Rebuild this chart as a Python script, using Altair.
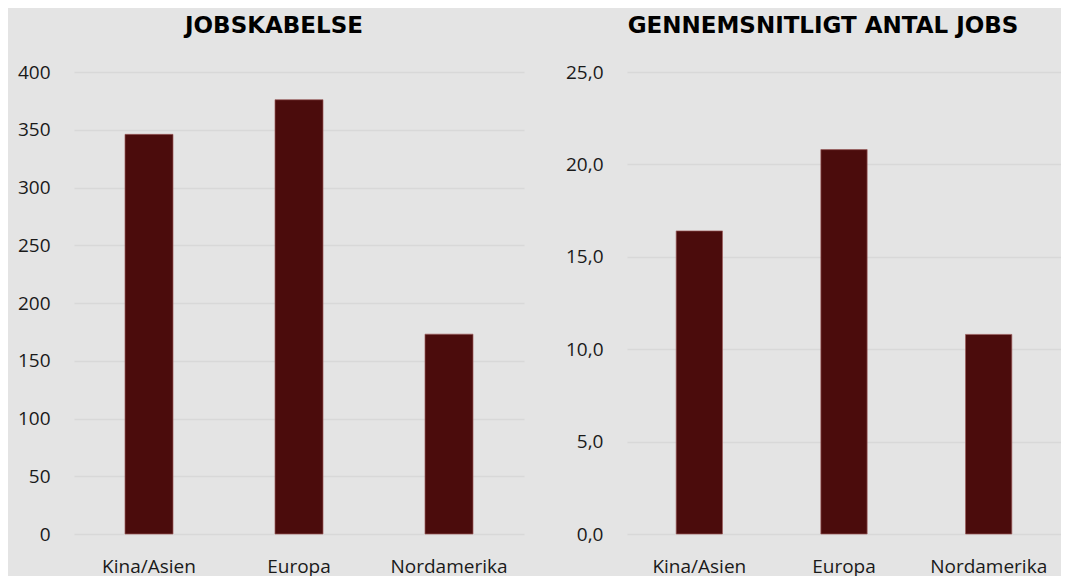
import altair as alt
import pandas as pd

regions = ["Kina/Asien", "Europa", "Nordamerika"]
jobskabelse = [346, 376, 173]
gennemsnit_jobs = [16.4, 20.8, 10.8]
left_ticks = [0, 50, 100, 150, 200, 250, 300, 350, 400]
right_ticks = [0, 5, 10, 15, 20, 25]
titles = ["JOBSKABELSE", "GENNEMSNITLIGT ANTAL JOBS"]

BG = "#e4e4e4"
BAR = "#4b0c0c"
GRID = "#d8d8d8"
TXT = "#1a1a1a"


def panel(values, title, ticks, ymax, width, label_expr, extent, dx):
    df = pd.DataFrame({"region": regions, "value": values})
    yaxis = dict(values=ticks, title=None, ticks=False, domain=False,
                 labelPadding=24, minExtent=extent, maxExtent=extent,
                 grid=True, gridColor=GRID, gridWidth=1.5,
                 labelFontSize=19, labelColor=TXT, labelFont="Open Sans")
    if label_expr:
        yaxis["labelExpr"] = label_expr
    return alt.Chart(
        df,
        title=alt.TitleParams(title, anchor="middle", frame="group", dx=dx,
                              font="DejaVu Sans", fontSize=23, fontWeight="bold",
                              color="#000000", offset=25),
    ).mark_bar(color=BAR, stroke="#9b5a5a", strokeWidth=0.7).encode(
        x=alt.X("region:N", sort=regions, title=None,
                scale=alt.Scale(paddingInner=0.68, paddingOuter=0.34),
                axis=alt.Axis(labelAngle=0, ticks=False, domain=False, grid=False,
                              labelPadding=23, labelFontSize=19, labelColor=TXT,
                              labelFont="Open Sans")),
        y=alt.Y("value:Q", scale=alt.Scale(domain=[0, ymax], nice=False, zero=True),
                axis=alt.Axis(**yaxis)),
    ).properties(width=width, height=462)


left = panel(jobskabelse, titles[0], left_ticks, 400, 450, None, 66, -25)
right = panel(gennemsnit_jobs, titles[1], right_ticks, 25, 434,
              "replace(format(datum.value, '.1f'), '.', ',')", 74, -21)

chart = alt.hconcat(left, right, spacing=29).properties(
    background=BG,
    padding={"left": 0, "top": 7, "right": 0, "bottom": 0},
).configure_view(strokeWidth=0)

chart.save("out.html", embed_options={"renderer": "svg", "actions": False})
